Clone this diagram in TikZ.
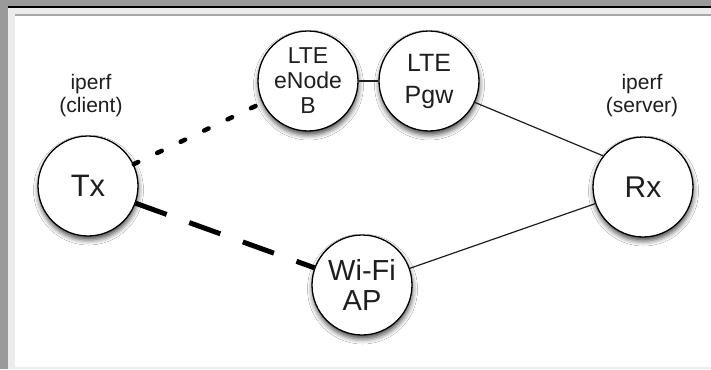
\documentclass[tikz,border=0pt]{standalone}
\usepackage{fontspec}
\setmainfont{Liberation Sans}
\usetikzlibrary{shadows.blur}
\definecolor{framegray}{HTML}{9A9A9A}
\definecolor{framelight}{HTML}{ECECEC}
\definecolor{frameline}{HTML}{A8A8A8}
\definecolor{inktext}{HTML}{1E1E1E}
\begin{document}
\begin{tikzpicture}[x=1pt,y=-1pt,
  host/.style={circle,draw=black,line width=1.3pt,fill=white,
    minimum size=100pt,inner sep=0pt,align=center,text=inktext,
    blur shadow={shadow xshift=0.5pt,shadow yshift=-4pt,
      shadow blur radius=5pt,shadow opacity=70}},
  caption/.style={align=center,text=inktext,inner sep=0pt,
    font=\fontsize{21}{23}\selectfont},
  link/.style={line width=1.2pt,draw=inktext},
  dotlink/.style={line width=4.5pt,line cap=round,draw=black,
    dash pattern=on 5pt off 21pt},
  dashlink/.style={line width=5pt,draw=black,
    dash pattern=on 33pt off 24pt}
]
% window frame
\useasboundingbox (0,0) rectangle (711,369);
\fill[white] (0,0) rectangle (711,369);
\fill[framegray] (0,0) rectangle (711,6);
\fill[framegray] (0,0) rectangle (7.5,369);
\fill[black] (7.5,6) rectangle (711,8);
\fill[framelight] (7.5,8) rectangle (711,14);
\fill[framelight] (7.5,8) rectangle (15,369);
\fill[framelight] (7.5,366.5) rectangle (711,369);
\fill[frameline] (15,14) rectangle (711,16);

% captions
\node[caption] (clientcap) at (91,96) {iperf\\(client)};
\node[caption] (servercap) at (642,96) {iperf\\(server)};

% host centres
\coordinate (ctx) at (88,186);
\coordinate (cenb) at (308,81);
\coordinate (cpgw) at (429,81);
\coordinate (crx) at (643,187);
\coordinate (cwifi) at (362,285);

% hosts
\node[host,font=\fontsize{31}{33}\selectfont] (tx) at (ctx) {Tx};
\node[host,font=\fontsize{23}{25}\selectfont] (enb) at (cenb) {LTE\\eNode\\B};
\node[host,font=\fontsize{25}{32}\selectfont] (pgw) at (cpgw) {LTE\\Pgw};
\node[host,font=\fontsize{30}{32}\selectfont] (rx) at (crx) {Rx};
\node[host,font=\fontsize{29}{30}\selectfont] (wifi) at (cwifi) {Wi-Fi\\AP};

% links
\draw[dotlink] (tx) -- (enb);
\draw[dashlink] (tx) -- (wifi);
\draw[link] (enb) -- (pgw);
\draw[link] (pgw.-25) -- (rx.142);
\draw[link] (wifi) -- (rx);
\end{tikzpicture}
\end{document}
